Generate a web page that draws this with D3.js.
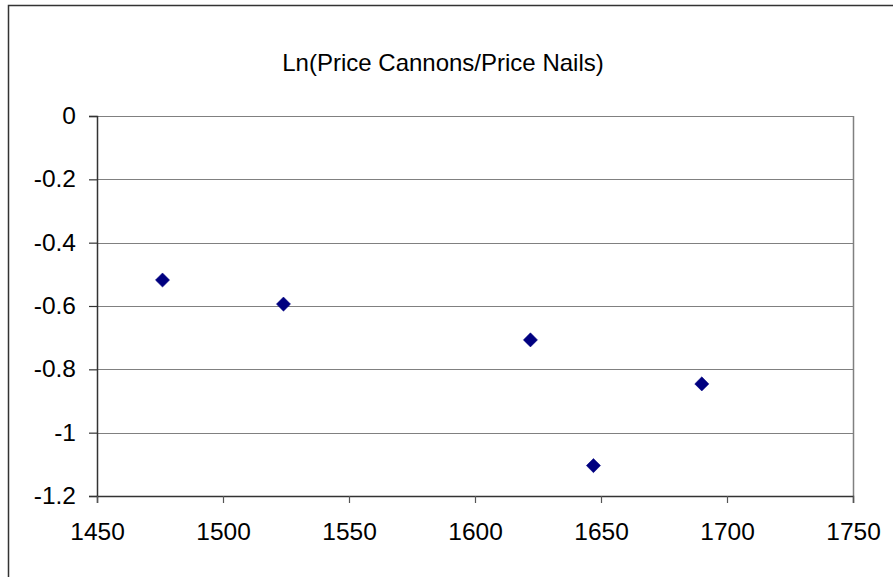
<!DOCTYPE html>
<html>
<head>
<meta charset="utf-8">
<script src="https://cdn.jsdelivr.net/npm/d3@7"></script>
<style>
  html, body { margin: 0; padding: 0; background: #fff; }
  svg { display: block; font-family: "Liberation Sans", Arial, sans-serif; }
</style>
</head>
<body>
<svg id="chart" width="893" height="577"></svg>
<script>
// Data: year and ln(price of cannons / price of nails)
const years  = [1476, 1524, 1622, 1647, 1690];
const ratios = [-0.518, -0.594, -0.707, -1.104, -0.846];

const xTicks = [1450, 1500, 1550, 1600, 1650, 1700, 1750];
const yTicks = [0, -0.2, -0.4, -0.6, -0.8, -1, -1.2];

const titleText = "Ln(Price Cannons/Price Nails)";

const svg = d3.select("#chart");
const plot = { left: 97, right: 853, top: 116, bottom: 496 };

const x = d3.scaleLinear().domain([1450, 1750]).range([plot.left, plot.right]);
const y = d3.scaleLinear().domain([-1.2, 0]).range([plot.bottom, plot.top]);

// outer chart frame (only top and left edges fall inside the view)
svg.append("path")
  .attr("d", "M8.5,577 L8.5,5.5 L893,5.5")
  .attr("fill", "none")
  .attr("stroke", "#333")
  .attr("stroke-width", 1.5);

// title
svg.append("text")
  .attr("x", 443)
  .attr("y", 71)
  .attr("text-anchor", "middle")
  .attr("font-size", 24)
  .attr("fill", "#000")
  .text(titleText);

// horizontal gridlines
svg.append("g")
  .selectAll("line")
  .data(yTicks.filter(d => d !== -1.2))
  .join("line")
  .attr("x1", plot.left)
  .attr("x2", plot.right)
  .attr("y1", d => Math.round(y(d)) + 0.5)
  .attr("y2", d => Math.round(y(d)) + 0.5)
  .attr("stroke", "#808080")
  .attr("stroke-width", 1);

// right edge of plot area
svg.append("line")
  .attr("x1", plot.right + 0.5).attr("x2", plot.right + 0.5)
  .attr("y1", plot.top).attr("y2", plot.bottom)
  .attr("stroke", "#808080")
  .attr("stroke-width", 1.5);

// y axis
const yAxis = d3.axisLeft(y)
  .tickValues(yTicks)
  .tickSize(8)
  .tickPadding(13)
  .tickFormat(d => d3.format("")(+d.toFixed(1)).replace("−", "-"));

const gy = svg.append("g")
  .attr("transform", `translate(${plot.left},0)`)
  .call(yAxis);
gy.select(".domain").attr("stroke", "#333").attr("stroke-width", 1.5);
gy.selectAll(".tick line").attr("stroke", "#333").attr("stroke-width", 1.2);
gy.selectAll(".tick text")
  .attr("font-size", 24.5)
  .attr("font-family", "Liberation Sans, Arial, sans-serif")
  .attr("fill", "#000")
  .attr("dy", "0.3em");

// x axis
const xAxis = d3.axisBottom(x)
  .tickValues(xTicks)
  .tickSize(7)
  .tickPadding(20)
  .tickFormat(d3.format("d"));

const gx = svg.append("g")
  .attr("transform", `translate(0,${plot.bottom})`)
  .call(xAxis);
gx.select(".domain").attr("stroke", "#333").attr("stroke-width", 1.5);
gx.selectAll(".tick line").attr("stroke", "#555").attr("stroke-width", 1.2);
gx.selectAll(".tick text")
  .attr("font-size", 24.5)
  .attr("font-family", "Liberation Sans, Arial, sans-serif")
  .attr("fill", "#000");

// diamond markers
const diamond = d3.symbol().type(d3.symbolSquare).size(100);
svg.append("g")
  .selectAll("path")
  .data(years.map((yr, i) => ({ yr, v: ratios[i] })))
  .join("path")
  .attr("d", diamond)
  .attr("transform", d => `translate(${x(d.yr)},${y(d.v)}) rotate(45)`)
  .attr("fill", "#000080")
  .attr("stroke", "#000080")
  .attr("stroke-width", 0.5);
</script>
</body>
</html>
